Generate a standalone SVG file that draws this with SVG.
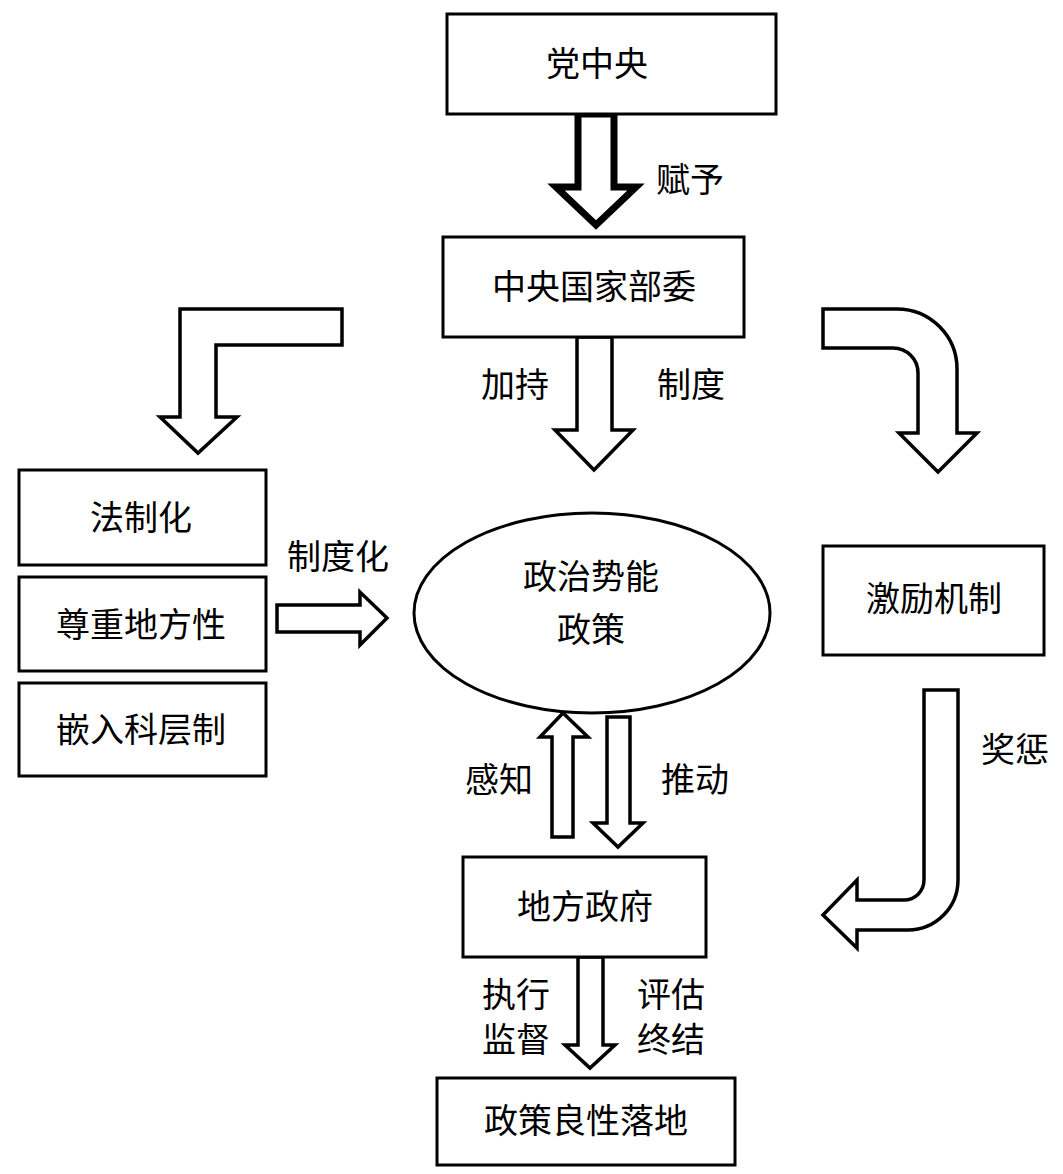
<svg xmlns="http://www.w3.org/2000/svg" width="1063" height="1174" viewBox="0 0 1063 1174">
<style>
.box{fill:#fff;stroke:#000;stroke-width:3}
.arr{fill:#fff;stroke:#000;stroke-width:3.5;stroke-linejoin:miter}
.t{font-family:"Noto Sans CJK SC","Noto Sans CJK JP",sans-serif;font-size:34px;fill:#000;text-anchor:middle}
</style>
<rect width="1063" height="1174" fill="#fff"/>
<g id="connectors">
<path class="arr" style="stroke-width:7" d="M578,114 L614,114 L614,187 L636,187 L596,225 L556,187 L578,187 Z"/>
<path class="arr" d="M577,337 L612,337 L612,430 L633,430 L594,470 L555,430 L577,430 Z"/>
<path class="arr" d="M342,309 L342,345 L216,345 L216,417 L237,417 L198,453 L160,417 L180,417 L180,309 Z"/>
<path class="arr" d="M823,309 L897,309 A60,60 0 0 1 957,369 L957,433 L977,433 L938,472 L899,433 L918,433 L918,373 A25,25 0 0 0 893,348 L823,348 Z"/>
<path class="arr" d="M277,605 L360,605 L360,592 L387,618 L360,645 L360,632 L277,632 Z"/>
<path class="arr" d="M924,690 L958,690 L958,880 A50,50 0 0 1 908,930 L857,930 L857,948 L823,915 L857,880 L857,900 L904,900 A20,20 0 0 0 924,880 Z"/>
<path class="arr" d="M552,837 L573,837 L573,737 L588,737 L563,713 L540,737 L552,737 Z"/>
<path class="arr" d="M607,717 L630,717 L630,823 L643,823 L618,847 L593,823 L607,823 Z"/>
<path class="arr" d="M578,957 L603,957 L603,1045 L615,1045 L590,1068 L565,1045 L578,1045 Z"/>
</g>
<g id="n1"><rect class="box" x="447" y="14" width="329" height="100"/><text class="t" x="597" y="76">党中央</text></g>
<g id="n2"><rect class="box" x="443" y="237" width="301" height="100"/><text class="t" x="594" y="299">中央国家部委</text></g>
<g id="n3"><rect class="box" x="19" y="470" width="247" height="95"/><text class="t" x="141" y="530">法制化</text></g>
<g id="n4"><rect class="box" x="19" y="577" width="247" height="94"/><text class="t" x="141" y="637">尊重地方性</text></g>
<g id="n5"><rect class="box" x="19" y="683" width="247" height="93"/><text class="t" x="141" y="742">嵌入科层制</text></g>
<g id="n6"><ellipse cx="592" cy="613" rx="178" ry="100" fill="#fff" stroke="#000" stroke-width="3"/><text class="t" x="591" y="589">政治势能</text><text class="t" x="591" y="642">政策</text></g>
<g id="n7"><rect class="box" x="823" y="546" width="221" height="109"/><text class="t" x="934" y="611">激励机制</text></g>
<g id="n8"><rect class="box" x="463" y="857" width="243" height="100"/><text class="t" x="585" y="919">地方政府</text></g>
<g id="n9"><rect class="box" x="437" y="1078" width="298" height="87"/><text class="t" x="586" y="1133">政策良性落地</text></g>
<g id="labels">
<text class="t" x="690" y="192">赋予</text>
<text class="t" x="515" y="397">加持</text>
<text class="t" x="691" y="397">制度</text>
<text class="t" x="338" y="569">制度化</text>
<text class="t" x="499" y="792">感知</text>
<text class="t" x="695" y="792">推动</text>
<text class="t" x="1015" y="762">奖惩</text>
<text class="t" x="516" y="1007">执行</text>
<text class="t" x="516" y="1052">监督</text>
<text class="t" x="671" y="1007">评估</text>
<text class="t" x="671" y="1052">终结</text>
</g>
</svg>
